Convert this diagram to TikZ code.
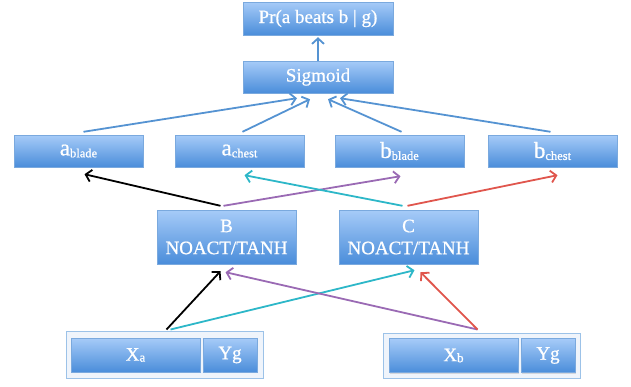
\documentclass[tikz,border=0pt]{standalone}
\usepackage{fontspec}
\setmainfont{Liberation Serif}
\newfontfamily\boxfont[FakeBold=0.8]{Liberation Serif}
\usetikzlibrary{arrows.meta,shadows}

\definecolor{boxtop}{HTML}{A6CBF8}
\definecolor{boxbot}{HTML}{4A8DDA}
\definecolor{boxline}{HTML}{7AA9DE}
\definecolor{pale}{HTML}{EFF4FB}
\definecolor{paleline}{HTML}{9CC2E8}
\definecolor{upblue}{HTML}{5593D2}
\definecolor{lnpurple}{HTML}{9A6AB4}
\definecolor{lncyan}{HTML}{2DB7C8}
\definecolor{lnred}{HTML}{E0564D}

\newcommand{\sub}[2]{{\fontsize{23}{23}\selectfont #1}\raisebox{-2pt}{\fontsize{12.5}{13}\selectfont #2}}
\newcommand{\xsub}[2]{#1\raisebox{-1pt}{\fontsize{13}{13}\selectfont #2}}

\tikzset{
  unit/.style={rectangle, top color=boxtop, bottom color=boxbot, draw=boxline,
    line width=0.4pt, text=white, font=\boxfont\fontsize{19}{22}\selectfont, align=center,
    inner sep=0pt, drop shadow={shadow xshift=0.8pt, shadow yshift=-1pt, opacity=0.25}},
  holder/.style={rectangle, fill=pale, draw=paleline, line width=1pt, inner sep=0pt},
  link/.style={line width=1.8pt, -{Straight Barb[length=5.5pt,width=12pt]}},
}

\begin{document}
\begin{tikzpicture}[x=1pt,y=-1pt]
            \useasboundingbox (0,0) rectangle (631,386);
            \node (pr) at (318,18.5) [unit,minimum width=150pt,minimum height=33pt] {Pr(a beats b | g)};
            \node (sig) at (318,77) [unit,minimum width=150pt,minimum height=32pt] {Sigmoid};
            \node (ablade) at (78.5,151) [unit,minimum width=129pt,minimum height=32pt] {\sub{a}{blade}};
            \node (achest) at (239.5,151) [unit,minimum width=129pt,minimum height=32pt] {\sub{a}{chest}};
            \node (bblade) at (399.5,151) [unit,minimum width=129pt,minimum height=32pt] {\sub{b}{blade}};
            \node (bchest) at (552.5,151) [unit,minimum width=129pt,minimum height=32pt] {\sub{b}{chest}};
            \node (hb) at (226.5,237) [unit,minimum width=139pt,minimum height=54pt] {B\\NOACT/TANH};
            \node (hc) at (408.5,237) [unit,minimum width=139pt,minimum height=54pt] {C\\NOACT/TANH};
            \node (ina) at (164.5,354.5) [holder,minimum width=197pt,minimum height=47pt] {};
            \node (inb) at (481.5,355.5) [holder,minimum width=197pt,minimum height=45pt] {};
            \node (xa) at (135.5,355) [unit,minimum width=129pt,minimum height=34pt] {\xsub{X}{a}};
            \node (yga) at (230,355) [unit,minimum width=54pt,minimum height=34pt] {Yg};
            \node (xb) at (453.5,355.5) [unit,minimum width=129pt,minimum height=34pt] {\xsub{X}{b}};
            \node (ygb) at (548,355.5) [unit,minimum width=54pt,minimum height=34pt] {Yg};
            % upward links
            \draw [link,upblue] (sig.north) -- ([yshift=-2pt]pr.south);
            \draw [link,upblue] ([xshift=5pt,yshift=3pt]ablade.north) -- ([xshift=-21pt,yshift=-5pt]sig.south);
            \draw [link,upblue] ([xshift=3pt,yshift=3pt]achest.north) -- ([xshift=-8pt,yshift=-6pt]sig.south);
            \draw [link,upblue] ([xshift=2pt,yshift=3pt]bblade.north) -- ([xshift=10pt,yshift=-6pt]sig.south);
            \draw [link,upblue] ([xshift=-2pt,yshift=3pt]bchest.north) -- ([xshift=22pt,yshift=-5pt]sig.south);
            % hidden to outputs
            \draw [link,black] ([xshift=-6pt,yshift=4pt]hb.north) -- ([xshift=6pt,yshift=-7pt]ablade.south);
            \draw [link,lnpurple] ([xshift=-3pt,yshift=4pt]hb.north) -- ([xshift=1pt,yshift=-9pt]bblade.south);
            \draw [link,lncyan] ([xshift=-6pt,yshift=4pt]hc.north) -- ([xshift=5pt,yshift=-8pt]achest.south);
            \draw [link,lnred] ([xshift=-1pt,yshift=4pt]hc.north) -- ([xshift=5pt,yshift=-8pt]bchest.south);
            % inputs to hidden
            \draw [link,black] ([xshift=2pt,yshift=1pt]ina.north) -- ([xshift=-6pt,yshift=-7pt]hb.south);
            \draw [link,lncyan] ([xshift=6pt,yshift=1pt]ina.north) -- ([xshift=6pt,yshift=-6pt]hc.south);
            \draw [link,lnpurple] ([xshift=-4pt,yshift=3pt]inb.north) -- ([xshift=-1pt,yshift=-8pt]hb.south);
            \draw [link,lnred] ([xshift=-4pt,yshift=3pt]inb.north) -- ([xshift=12pt,yshift=-8pt]hc.south);
        \end{tikzpicture}
\end{document}
